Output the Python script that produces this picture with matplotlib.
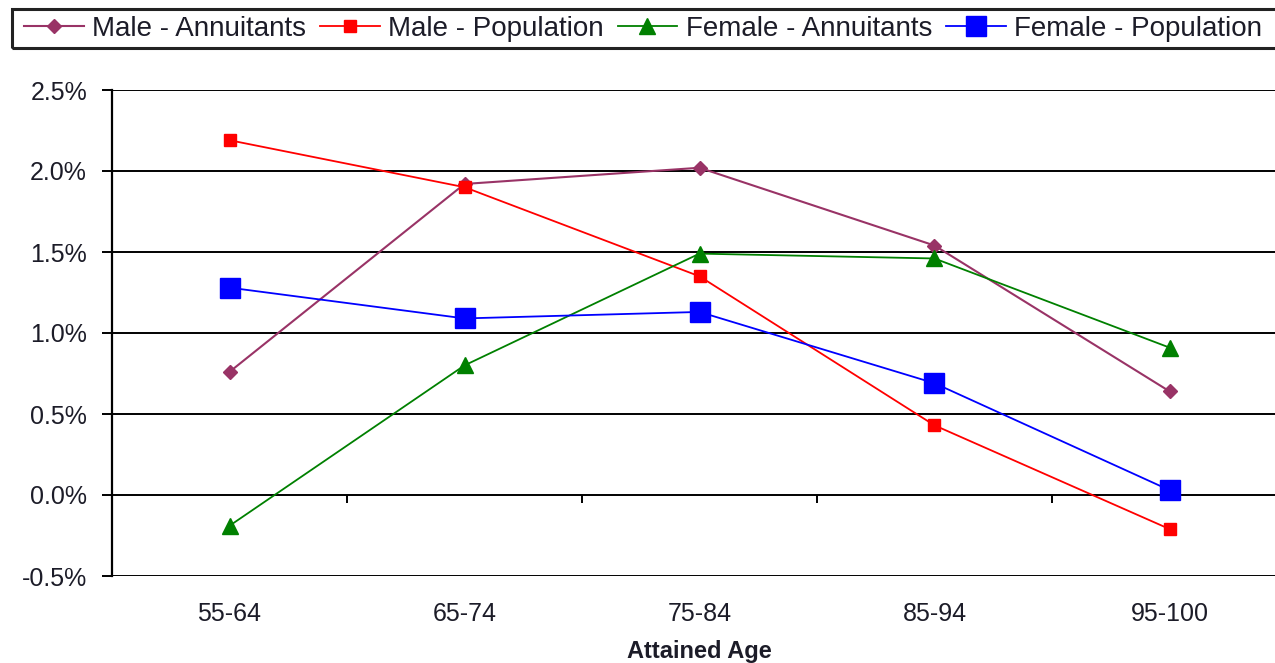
import matplotlib
matplotlib.use("Agg")
import matplotlib.pyplot as plt
from matplotlib.patches import Rectangle
from matplotlib.ticker import FuncFormatter, MultipleLocator

plt.rcParams['font.family'] = ['Liberation Sans', 'DejaVu Sans']

categories = ["55-64", "65-74", "75-84", "85-94", "95-100"]
male_annuitants = [0.76, 1.92, 2.02, 1.54, 0.64]
male_population = [2.19, 1.90, 1.35, 0.43, -0.21]
female_annuitants = [-0.19, 0.80, 1.49, 1.46, 0.91]
female_population = [1.28, 1.09, 1.13, 0.69, 0.03]

fig = plt.figure(figsize=(12.75, 6.63), dpi=100)
ax = fig.add_axes([112/1275, 1-576/663, (1287-112)/1275, (576-90)/663])

x = list(range(len(categories)))
ax.plot(x, male_annuitants, color="#993366", lw=1.5, marker="D", ms=7.5,
        label="Male - Annuitants")
ax.plot(x, male_population, color="#FF0000", lw=1.3, marker="s", ms=8,
        label="Male - Population")
ax.plot(x, female_annuitants, color="#008000", lw=1.3, marker="^", ms=11,
        label="Female - Annuitants")
ax.plot(x, female_population, color="#0000FF", lw=1.3, marker="s", ms=14,
        label="Female - Population")

ax.set_xlim(-0.5, 4.5)
ax.set_ylim(-0.5, 2.5)
ax.yaxis.set_major_locator(MultipleLocator(0.5))
ax.yaxis.set_major_formatter(FuncFormatter(lambda v, p: f"{v:.1f}%"))
ax.yaxis.grid(True, color="black", lw=1.4)
ax.set_axisbelow(True)

for s in ["top", "right", "bottom"]:
    ax.spines[s].set_visible(False)
ax.spines["left"].set_linewidth(1.6)

ax.set_xticks(x)
ax.set_xticklabels(categories)
ax.tick_params(axis="x", length=0, pad=19, labelsize=18, labelcolor="#1c1c28")
ax.tick_params(axis="y", length=7, width=1.4, direction="out", pad=11,
               labelsize=18, labelcolor="#1c1c28")

sec = ax.secondary_xaxis((0 - (-0.5)) / 3.0)
sec.set_xticks([0.5, 1.5, 2.5, 3.5])
sec.set_xticklabels([])
sec.spines["bottom"].set_visible(False)
sec.tick_params(axis="x", length=6, width=1.4, direction="out", color="black")

ax.set_xlabel("Attained Age", fontsize=17, fontweight="bold", labelpad=10,
              color="#1c1c28")

# legend frame drawn separately (extends past the right edge as in the reference)
frame = Rectangle((12/1275, 1-48/663), 1.2, 39/663, transform=fig.transFigure,
                  fill=False, edgecolor="#222222", lw=2.2)
fig.patches.append(frame)

leg = fig.legend(loc="center left", bbox_to_anchor=(24/1275, 1-28.5/663),
                 ncol=4, fontsize=20, frameon=False,
                 handlelength=2.15, handletextpad=0.3, columnspacing=0.5,
                 borderpad=0, borderaxespad=0)
for t in leg.get_texts():
    t.set_color("#1c1c28")

fig.savefig("out.png", dpi=100)
